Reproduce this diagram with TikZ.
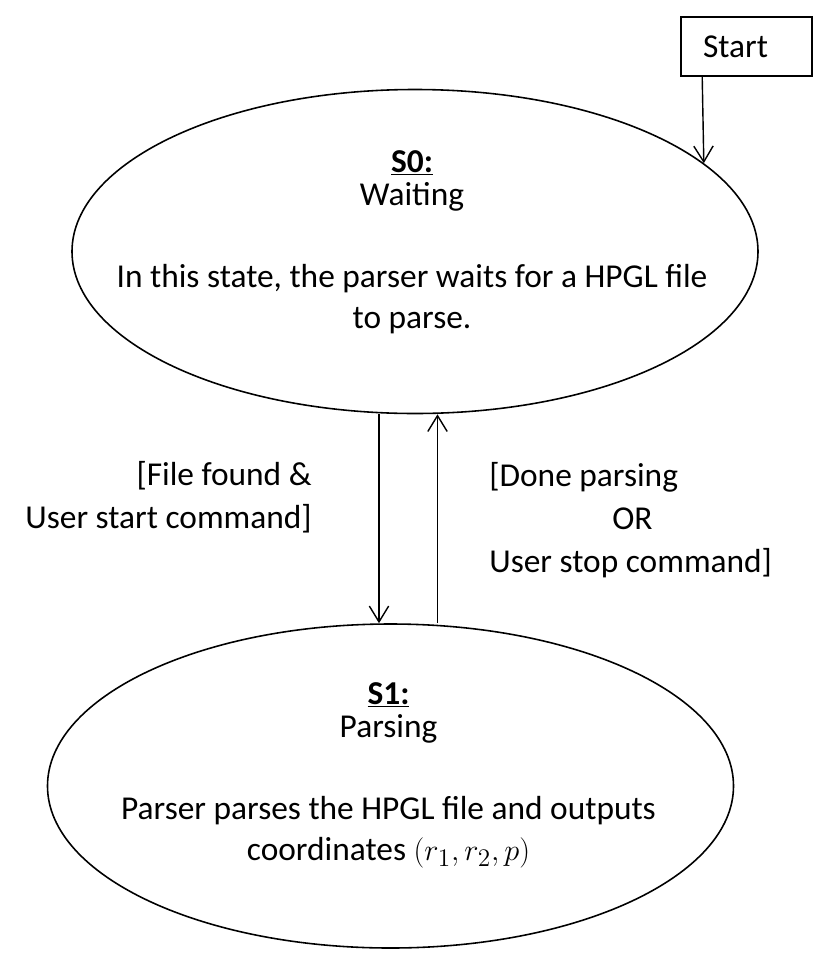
\documentclass[tikz,border=0pt]{standalone}
\usepackage{fontspec}
\setmainfont{Carlito}
\usetikzlibrary{arrows.meta,positioning,shapes.geometric}
\definecolor{ink}{HTML}{000000}
\tikzset{
  every node/.style={font=\fontsize{19}{23.2}\selectfont, text=ink},
  state/.style={draw=ink, ellipse, minimum width=13.72cm, minimum height=6.48cm, line width=0.9pt, inner sep=0pt},
  statetext/.style={align=center, inner sep=0pt},
  startbox/.style={draw=ink, line width=0.9pt, minimum width=2.62cm, minimum height=1.18cm, inner xsep=0.44cm, text width=1.74cm, align=left},
  arr/.style={-{Straight Barb[length=9pt,width=11pt]}, draw=ink, line width=0.8pt},
  guard/.style={inner sep=0pt, font=\fontsize{19}{24.6}\selectfont},
}

\begin{document}
\begin{tikzpicture}
  \useasboundingbox (0,0) rectangle (16.72,-19.48);
  % ---- states -------------------------------------------------------------
  \node[state] (s0) at (8.3,-5.03) {};
  \node[statetext] (s0txt) at ([xshift=-0.06cm, yshift=0.19cm]s0.center)
    {\underline{\textbf{S0:}}\\[-4pt] Waiting\\[23.3pt] In this state, the parser waits for a HPGL file\\ to parse.};
  \node[state] (s1) at (7.81,-15.72) {};
  \node[statetext] (s1txt) at ([xshift=-0.04cm, yshift=0.22cm]s1.center)
    {\underline{\textbf{S1:}}\\[-4pt] Parsing\\[23.3pt] Parser parses the HPGL file and outputs\\ coordinates $(r_1, r_2, p)$};

  % ---- start --------------------------------------------------------------
  \node[startbox] (start) at (14.93,-0.93) {Start};
  \draw[arr] ([xshift=0.44cm]start.south west) -- (s0.17);

  % ---- transitions --------------------------------------------------------
  \draw[arr] ([xshift=-0.72cm]s0.south) -- ([xshift=-0.23cm]s1.north);
  \draw[arr] ([xshift=0.94cm]s1.north) -- ([xshift=0.45cm]s0.south);
  \node[guard, align=right, anchor=east] (go) at (6.24,-9.95) {[File found \&\\User start command]};
  \node[guard, align=left, anchor=west] (stop) at (9.78,-10.4) {[Done parsing\\\hspace*{2.46cm}OR\\User stop command]};
\end{tikzpicture}
\end{document}
